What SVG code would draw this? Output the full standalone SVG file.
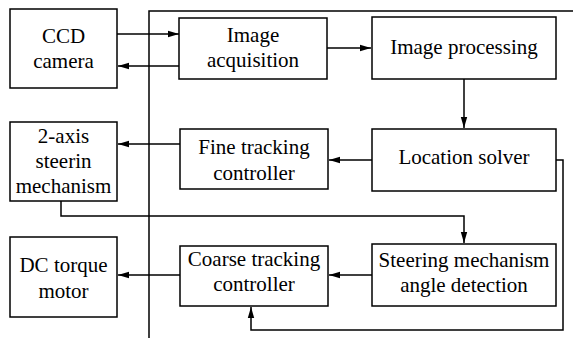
<svg xmlns="http://www.w3.org/2000/svg" width="573" height="338" viewBox="0 0 573 338">
<style>
rect{fill:#fff;stroke:#000;stroke-width:1.5}
text{font-family:"Liberation Serif","Times New Roman",serif;font-size:21px;fill:#000;text-anchor:middle}
.c{fill:none;stroke:#000;stroke-width:1.5}
</style>
<defs>
<marker id="ah" markerUnits="userSpaceOnUse" markerWidth="12" markerHeight="8" refX="11" refY="4" orient="auto">
<path d="M0,0.8 L11,4 L0,7.2 Z" fill="#000"/>
</marker>
</defs>
<rect x="0" y="0" width="573" height="338" style="fill:#fff;stroke:none"/>
<g id="frame">
<path class="c" d="M149,338 V11 H573"/>
</g>
<g id="connectors">
<path class="c" d="M117,34 H179" marker-end="url(#ah)"/>
<path class="c" d="M179,66 H118" marker-end="url(#ah)"/>
<path class="c" d="M327,48 H371" marker-end="url(#ah)"/>
<path class="c" d="M464,79 V128" marker-end="url(#ah)"/>
<path class="c" d="M372,160 H329" marker-end="url(#ah)"/>
<path class="c" d="M180,144 H118" marker-end="url(#ah)"/>
<path class="c" d="M61,201 V216 H464 V243" marker-end="url(#ah)"/>
<path class="c" d="M372,275 H329" marker-end="url(#ah)"/>
<path class="c" d="M180,275 H118" marker-end="url(#ah)"/>
<path class="c" d="M556,160 H563 V330 H251 V307" marker-end="url(#ah)"/>
</g>
<g id="ccd">
<rect x="10" y="9" width="107" height="79"/>
<text x="63.5" y="43">CCD</text>
<text x="63.5" y="68">camera</text>
</g>
<g id="acq">
<rect x="179" y="18" width="148" height="61"/>
<text x="253" y="42">Image</text>
<text x="253" y="67">acquisition</text>
</g>
<g id="proc">
<rect x="372" y="17" width="184" height="62"/>
<text x="464" y="54">Image processing</text>
</g>
<g id="loc">
<rect x="372" y="129" width="184" height="62"/>
<text x="464" y="164">Location solver</text>
</g>
<g id="fine">
<rect x="180" y="129" width="148" height="60"/>
<text x="254" y="154">Fine tracking</text>
<text x="254" y="180">controller</text>
</g>
<g id="axis">
<rect x="10" y="122" width="107" height="79"/>
<text x="63.5" y="143">2-axis</text>
<text x="63.5" y="168">steerin</text>
<text x="63.5" y="193">mechanism</text>
</g>
<g id="steer">
<rect x="372" y="244" width="184" height="62"/>
<text x="464" y="267">Steering mechanism</text>
<text x="464" y="292">angle detection</text>
</g>
<g id="coarse">
<rect x="180" y="246" width="148" height="60"/>
<text x="254" y="266">Coarse tracking</text>
<text x="254" y="291">controller</text>
</g>
<g id="dc">
<rect x="10" y="237" width="107" height="80"/>
<text x="63.5" y="272">DC torque</text>
<text x="63.5" y="298">motor</text>
</g>
</svg>
